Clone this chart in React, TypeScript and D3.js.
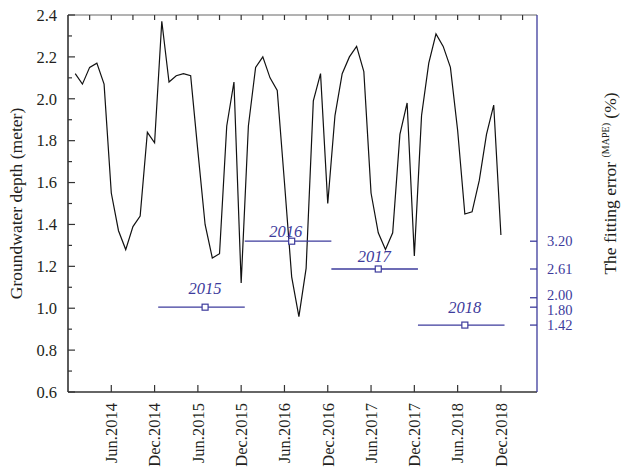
import React from "react";
import * as d3 from "d3";

// monthly groundwater depth, Jan 2014 .. Dec 2018 (month index 1..60)
const DEPTH = [
  2.12, 2.07, 2.15, 2.17, 2.07, 1.55, 1.37, 1.28, 1.39, 1.44, 1.84, 1.79,
  2.37, 2.08, 2.11, 2.12, 2.11, 1.75, 1.40, 1.24, 1.26, 1.87, 2.08, 1.12,
  1.87, 2.15, 2.20, 2.10, 2.04, 1.60, 1.15, 0.96, 1.19, 1.99, 2.12, 1.50,
  1.92, 2.12, 2.20, 2.25, 2.13, 1.55, 1.36, 1.28, 1.36, 1.83, 1.98, 1.25,
  1.92, 2.17, 2.31, 2.25, 2.15, 1.85, 1.45, 1.46, 1.61, 1.83, 1.97, 1.35,
];

const DATE_TICKS = [6, 12, 18, 24, 30, 36, 42, 48, 54, 60];
const DATE_LABELS = [
  "Jun.2014", "Dec.2014", "Jun.2015", "Dec.2015", "Jun.2016",
  "Dec.2016", "Jun.2017", "Dec.2017", "Jun.2018", "Dec.2018",
];

// yearly fitting error (MAPE, %)
const YEARS = ["2015", "2016", "2017", "2018"];
const MAPE = [1.8, 3.2, 2.61, 1.42];
const YEAR_START = [12.5, 24.5, 36.5, 48.5];
const YEAR_END = [24.5, 36.5, 48.5, 60.5];
const YEAR_MARK = [19, 31, 43, 55];
const MAPE_TICKS = [3.2, 2.61, 2.0, 1.8, 1.42];

const LEFT_TICKS = [0.6, 0.8, 1.0, 1.2, 1.4, 1.6, 1.8, 2.0, 2.2, 2.4];

const W = 624;
const H = 472;
const BLUE = "#3d3b9c";
const INK = "#231f20";
const FONT = "'Liberation Serif', 'Times New Roman', serif";

// label nudges for the year annotations (dx, dy from marker)
const LABEL_DX = [0, -6, -4, 0];
const LABEL_DY = [-13, -4, -7, -12.5];
// 2.00 and 1.80 sit very close, spread their labels a little
const RIGHT_LABEL_DY = [0, 0, -2.5, 2.5, 0];

export default function App() {
  const x = d3.scaleLinear().domain([0, 65]).range([68, 537]);
  const y = d3.scaleLinear().domain([0.6, 2.4]).range([392, 15]);
  const yR = d3.scaleLinear().domain([0, 8]).range([392, 15]);

  const line = d3
    .line<number>()
    .x((_, i) => x(i + 1))
    .y((d) => y(d));

  const [x0, x1] = x.range();
  const [yb, yt] = y.range();

  const topTicks = d3.range(3, 64, 3);
  const minorLeft = d3.range(0.7, 2.4, 0.2);

  return (
    <svg
      width={W}
      height={H}
      style={{ position: "absolute", left: 0, top: 0, background: "#fff" }}
      fontFamily={FONT}
    >
      {/* data line */}
      <path d={line(DEPTH) || ""} fill="none" stroke="#111" strokeWidth={1.2} strokeLinejoin="miter" />

      {/* yearly MAPE bars */}
      {YEARS.map((yr, i) => (
        <g key={yr}>
          <line
            x1={x(YEAR_START[i])}
            x2={x(YEAR_END[i])}
            y1={yR(MAPE[i])}
            y2={yR(MAPE[i])}
            stroke={BLUE}
            strokeWidth={1.3}
          />
          <rect
            x={x(YEAR_MARK[i]) - 3}
            y={yR(MAPE[i]) - 3}
            width={6}
            height={6}
            fill="#fff"
            stroke={BLUE}
            strokeWidth={1.2}
          />
          <text
            x={x(YEAR_MARK[i]) + LABEL_DX[i]}
            y={yR(MAPE[i]) + LABEL_DY[i]}
            textAnchor="middle"
            fontStyle="italic"
            fontSize={16.5}
            fill={BLUE}
          >
            {yr}
          </text>
        </g>
      ))}

      {/* frame */}
      <line x1={x0} x2={x1} y1={yt} y2={yt} stroke="#666" strokeWidth={1} />
      <line x1={x0} x2={x1} y1={yb} y2={yb} stroke="#333" strokeWidth={1.6} />
      <line x1={x0} x2={x0} y1={yt} y2={yb} stroke="#333" strokeWidth={1.6} />
      <line x1={x1} x2={x1} y1={yt} y2={yb} stroke={BLUE} strokeWidth={1.3} />

      {/* top ticks */}
      {topTicks.map((m) => (
        <line key={`t${m}`} x1={x(m)} x2={x(m)} y1={yt} y2={yt + 5} stroke="#333" strokeWidth={1.2} />
      ))}

      {/* bottom ticks + labels */}
      {DATE_TICKS.map((m, i) => (
        <g key={`b${m}`}>
          <line x1={x(m)} x2={x(m)} y1={yb} y2={yb - 7} stroke="#333" strokeWidth={1.2} />
          <text
            transform={`translate(${x(m)},${yb + 11}) rotate(-90)`}
            textAnchor="end"
            dy="0.35em"
            fontSize={16.5}
            fill={INK}
          >
            {DATE_LABELS[i]}
          </text>
        </g>
      ))}

      {/* left ticks */}
      {LEFT_TICKS.map((v) => (
        <g key={`l${v}`}>
          <line x1={x0} x2={x0 + 7} y1={y(v)} y2={y(v)} stroke="#333" strokeWidth={1.2} />
          <text x={x0 - 11} y={y(v)} dy="0.35em" textAnchor="end" fontSize={16.5} fill={INK}>
            {v.toFixed(1)}
          </text>
        </g>
      ))}
      {minorLeft.map((v) => (
        <line key={`lm${v}`} x1={x0} x2={x0 + 4} y1={y(v)} y2={y(v)} stroke="#333" strokeWidth={1.2} />
      ))}

      {/* right MAPE ticks */}
      {MAPE_TICKS.map((v, i) => (
        <g key={`r${v}`}>
          <line x1={x1} x2={x1 - 7} y1={yR(v)} y2={yR(v)} stroke={BLUE} strokeWidth={1.3} />
          <text
            x={x1 + 10}
            y={yR(v) + RIGHT_LABEL_DY[i]}
            dy="0.35em"
            fontSize={14.5}
            fill={BLUE}
          >
            {v.toFixed(2)}
          </text>
        </g>
      ))}

      {/* axis titles */}
      <text transform="translate(22,203.5) rotate(-90)" textAnchor="middle" fontSize={17.5} fill={INK}>
        Groundwater depth (meter)
      </text>
      <text transform="translate(616,183.5) rotate(-90)" textAnchor="middle" fontSize={17.5} fill={INK}>
        The fitting error{" "}
        <tspan fontSize={10} dy={-7}>
          (MAPE)
        </tspan>
        <tspan dy={7}> (%)</tspan>
      </text>
    </svg>
  );
}
